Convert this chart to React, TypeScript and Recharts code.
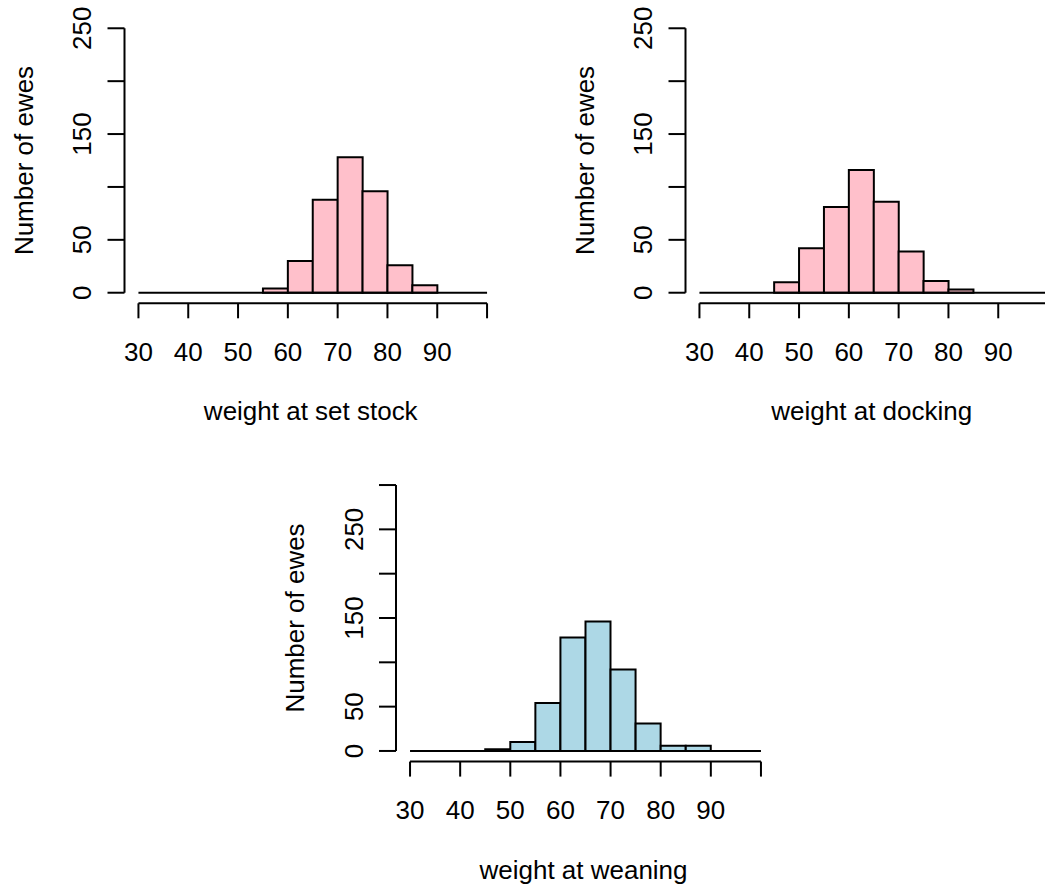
import React from "react";
import { BarChart, Bar, XAxis, YAxis, ReferenceLine } from "recharts";

// histogram bins are 5 kg wide, from 30 to 100
const binMids = [32.5, 37.5, 42.5, 47.5, 52.5, 57.5, 62.5, 67.5, 72.5, 77.5, 82.5, 87.5, 92.5, 97.5];
const setStockCounts = [0, 0, 0, 0, 0, 4, 30, 88, 128, 96, 26, 7, 0, 0];
const dockingCounts = [0, 0, 0, 10, 42, 81, 116, 86, 39, 11, 3, 0, 0, 0];
const weaningCounts = [0, 0, 0, 2, 10, 54, 128, 146, 92, 31, 6, 6, 0, 0];

const xTicks = [30, 40, 50, 60, 70, 80, 90, 100];
const xTickLabels = ["30", "40", "50", "60", "70", "80", "90", ""];
const yTicks250 = [0, 50, 100, 150, 200, 250];
const yTicks300 = [0, 50, 100, 150, 200, 250, 300];
const yLabelled = [0, 50, 150, 250];

const FONT = "'Liberation Sans', Arial, sans-serif";
const INK = "#000";
const LINE = 2;

type PanelProps = {
  counts: number[];
  fill: string;
  xTitle: string;
  yTicks: number[];
  left: number;
  top: number;
  yAxisWidth: number;
  marginTop: number;
  plotWidth: number;
  plotHeight: number;
};

const YTick = (props: any) => {
  const { x, y, payload } = props;
  if (!yLabelled.includes(payload.value)) return null;
  return (
    <text
      x={x}
      y={y}
      transform={`rotate(-90, ${x}, ${y})`}
      textAnchor="middle"
      fontSize={26}
      fontFamily={FONT}
      fill={INK}
    >
      {payload.value}
    </text>
  );
};

const Panel = ({ counts, fill, xTitle, yTicks, left, top, yAxisWidth, marginTop, plotWidth, plotHeight }: PanelProps) => {
  const data = binMids.map((mid, i) => ({ mid, count: counts[i] }));
  const yMax = yTicks[yTicks.length - 1];
  // R pads the plot region by 4% on every side
  const yMin = -0.04 * yMax;
  const xMin = 30 - 0.04 * 70;
  const xMax = 100 + 0.04 * 70;
  const xAxisHeight = 137;
  const width = yAxisWidth + plotWidth + 20;
  const height = marginTop + plotHeight + xAxisHeight;

  return (
    <div style={{ position: "absolute", left, top }}>
      <BarChart
        width={width}
        height={height}
        data={data}
        margin={{ top: marginTop, right: 20, bottom: 0, left: 0 }}
        barCategoryGap={0}
        barGap={0}
      >
        <XAxis
          type="number"
          dataKey="mid"
          domain={[xMin, xMax]}
          allowDataOverflow
          ticks={xTicks}
          interval={0}
          height={xAxisHeight}
          axisLine={false}
          tickSize={15}
          tickMargin={24}
          tickLine={{ stroke: INK, strokeWidth: LINE }}
          tick={{ fontSize: 26, fontFamily: FONT, fill: INK }}
          tickFormatter={(v: number, i: number) => xTickLabels[i]}
          label={{
            content: (p: any) => {
              const vb = p.viewBox;
              return (
                <text
                  x={vb.x + vb.width / 2 - 2}
                  y={vb.y + 117}
                  textAnchor="middle"
                  fontSize={26}
                  fontFamily={FONT}
                  fill={INK}
                >
                  {xTitle}
                </text>
              );
            },
          }}
        />
        <YAxis
          type="number"
          domain={[yMin, yMax * 1.04]}
          allowDataOverflow
          ticks={yTicks}
          interval={0}
          width={yAxisWidth}
          axisLine={false}
          tickSize={17}
          tickMargin={16}
          tickLine={{ stroke: INK, strokeWidth: LINE }}
          tick={<YTick />}
          label={{
            content: (p: any) => {
              const vb = p.viewBox;
              const tx = vb.x + vb.width - 91.5;
              const ty = vb.y + vb.height / 2;
              return (
                <text
                  x={tx}
                  y={ty}
                  transform={`rotate(-90, ${tx}, ${ty})`}
                  textAnchor="middle"
                  fontSize={26}
                  fontFamily={FONT}
                  fill={INK}
                >
                  Number of ewes
                </text>
              );
            },
          }}
        />
        <Bar dataKey="count" fill={fill} stroke={INK} strokeWidth={LINE} isAnimationActive={false} />
        <ReferenceLine
          segment={[{ x: 30, y: 0 }, { x: 100, y: 0 }]}
          stroke={INK}
          strokeWidth={LINE}
          ifOverflow="visible"
        />
        <ReferenceLine
          segment={[{ x: 30, y: yMin }, { x: 100, y: yMin }]}
          stroke={INK}
          strokeWidth={LINE}
          ifOverflow="visible"
        />
        <ReferenceLine
          segment={[{ x: xMin, y: 0 }, { x: xMin, y: yMax }]}
          stroke={INK}
          strokeWidth={LINE}
          ifOverflow="visible"
        />
      </BarChart>
    </div>
  );
};

export default function App() {
  return (
    <div
      style={{
        position: "absolute",
        left: 0,
        top: 0,
        width: 1045,
        height: 890,
        overflow: "hidden",
        background: "#fff",
      }}
    >
      <Panel
        counts={setStockCounts}
        fill="#FFC0CB"
        xTitle="weight at set stock"
        yTicks={yTicks250}
        left={0}
        top={0}
        yAxisWidth={124.5}
        marginTop={17.7}
        plotWidth={376.5}
        plotHeight={285.6}
      />
      <Panel
        counts={dockingCounts}
        fill="#FFC0CB"
        xTitle="weight at docking"
        yTicks={yTicks250}
        left={561}
        top={0}
        yAxisWidth={124.5}
        marginTop={17.7}
        plotWidth={376.5}
        plotHeight={285.6}
      />
      <Panel
        counts={weaningCounts}
        fill="#ADD8E6"
        xTitle="weight at weaning"
        yTicks={yTicks300}
        left={270}
        top={455}
        yAxisWidth={126}
        marginTop={19.4}
        plotWidth={379}
        plotHeight={287.2}
      />
    </div>
  );
}
